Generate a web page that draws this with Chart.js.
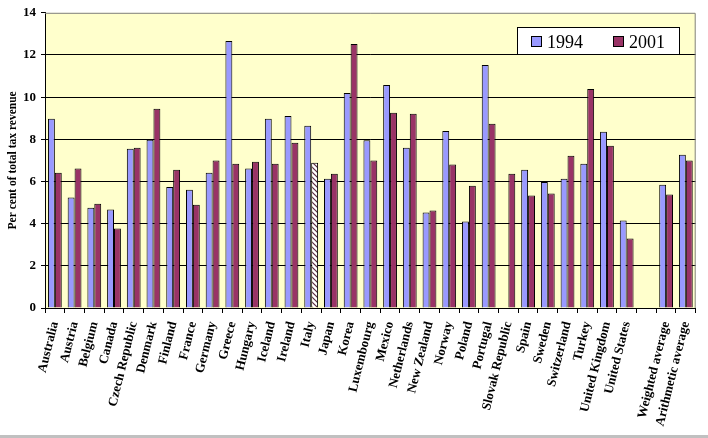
<!DOCTYPE html>
<html>
<head>
<meta charset="utf-8">
<script src="https://cdn.jsdelivr.net/npm/chart.js@4/dist/chart.umd.min.js"></script>
<style>
  html, body { margin: 0; padding: 0; background: #fff; }
  #wrap { width: 708px; height: 435px; border-bottom: 3px solid #c0c0c0; }
</style>
</head>
<body>
<div id="wrap"><canvas id="chart" width="708" height="435"></canvas></div>
<script>
// Категории (пустая категория перед средними значениями)
const countries = [
  "Australia", "Austria", "Belgium", "Canada", "Czech Republic", "Denmark",
  "Finland", "France", "Germany", "Greece", "Hungary", "Iceland", "Ireland",
  "Italy", "Japan", "Korea", "Luxembourg", "Mexico", "Netherlands",
  "New Zealand", "Norway", "Poland", "Portugal", "Slovak Republic", "Spain",
  "Sweden", "Switzerland", "Turkey", "United Kingdom", "United States", "",
  "Weighted average", "Arithmetic average"
];

const values1994 = [
  8.97, 5.24, 4.76, 4.67, 7.55, 7.98, 5.74, 5.61, 6.42, 12.66,
  6.61, 8.97, 9.11, 8.64, 6.13, 10.20, 7.96, 10.58, 7.60, 4.53,
  8.40, 4.10, 11.53, null, 6.56, 5.98, 6.13, 6.84, 8.36, 4.15,
  null, 5.85, 7.27
];

const values2001 = [
  6.42, 6.61, 4.95, 3.77, 7.60, 9.45, 6.56, 4.90, 6.99, 6.84,
  6.94, 6.84, 7.84, 6.89, 6.37, 12.52, 6.99, 9.26, 9.21, 4.62,
  6.80, 5.80, 8.74, 6.37, 5.33, 5.43, 7.22, 10.39, 7.70, 3.30,
  null, 5.38, 6.99
];

const yTicks = [0, 2, 4, 6, 8, 10, 12, 14];
const seriesNames = ["1994", "2001"];

const serif = '"Liberation Serif", "Times New Roman", serif';

// Штриховка для Италии (2001)
function makeHatch() {
  const pc = document.createElement("canvas");
  pc.width = 5;
  pc.height = 5;
  const c = pc.getContext("2d");
  c.fillStyle = "#ffffff";
  c.fillRect(0, 0, 5, 5);
  c.strokeStyle = "#5a2a40";
  c.lineWidth = 1.2;
  c.beginPath();
  c.moveTo(-1, -1); c.lineTo(6, 6);
  c.moveTo(-1, 4); c.lineTo(1, 6);
  c.moveTo(4, -1); c.lineTo(6, 1);
  c.stroke();
  return c.createPattern(pc, "repeat");
}

const ctx = document.getElementById("chart").getContext("2d");
const hatch = makeHatch();
const colors1994 = "#9999ff";
const colors2001 = countries.map((c) => (c === "Italy" ? hatch : "#993366"));

// Фон области графика, рамка и легенда
const framePlugin = {
  id: "frame",
  beforeDraw(chart) {
    const a = chart.chartArea;
    const g = chart.ctx;
    g.save();
    g.fillStyle = "#ffffcc";
    g.fillRect(a.left, a.top, a.right - a.left, a.bottom - a.top);
    g.restore();
  },
  afterDraw(chart) {
    const a = chart.chartArea;
    const g = chart.ctx;
    g.save();
    g.strokeStyle = "#808080";
    g.lineWidth = 1;
    g.beginPath();
    g.moveTo(a.left, a.top + 0.5);
    g.lineTo(a.right - 0.5, a.top + 0.5);
    g.lineTo(a.right - 0.5, a.bottom);
    g.stroke();

    // легенда
    g.fillStyle = "#ffffff";
    g.fillRect(517, 27, 162, 27);
    g.strokeStyle = "#000000";
    g.strokeRect(517.5, 27.5, 162, 27);
    const items = [
      { x: 531, color: colors1994, text: seriesNames[0] },
      { x: 613, color: "#993366", text: seriesNames[1] },
    ];
    g.font = "18px " + serif;
    g.textBaseline = "alphabetic";
    items.forEach((it) => {
      g.fillStyle = it.color;
      g.fillRect(it.x, 36, 10, 10);
      g.strokeStyle = "#000";
      g.strokeRect(it.x + 0.5, 36.5, 10, 10);
      g.fillStyle = "#000";
      g.fillText(it.text, it.x + 16, 48);
    });
    g.restore();
  },
};

new Chart(ctx, {
  type: "bar",
  data: {
    labels: countries,
    datasets: [
      {
        label: seriesNames[0],
        data: values1994,
        backgroundColor: colors1994,
        borderColor: "#000000",
        borderWidth: 1,
        categoryPercentage: 0.7,
        barPercentage: 1.0,
      },
      {
        label: seriesNames[1],
        data: values2001,
        backgroundColor: colors2001,
        borderColor: "#000000",
        borderWidth: 1,
        categoryPercentage: 0.7,
        barPercentage: 1.0,
      },
    ],
  },
  options: {
    responsive: false,
    animation: false,
    devicePixelRatio: 1,
    layout: { padding: { top: 12, right: 2, left: 0, bottom: 0 } },
    plugins: {
      legend: { display: false },
      tooltip: { enabled: false },
    },
    scales: {
      x: {
        offset: true,
        grid: {
          offset: true,
          drawOnChartArea: false,
          drawTicks: true,
          tickLength: 5,
          color: "#000000",
        },
        border: { color: "#000000" },
        ticks: {
          autoSkip: false,
          minRotation: 76,
          maxRotation: 76,
          padding: 7,
          color: "#000000",
          font: { family: serif, size: 13, weight: "bold" },
        },
        afterFit(scale) {
          scale.height = 127;
        },
      },
      y: {
        min: 0,
        max: 14,
        afterBuildTicks(scale) {
          scale.ticks = yTicks.map((v) => ({ value: v }));
        },
        grid: {
          color: (c) => (c.tick && c.tick.value === 14 ? "rgba(0,0,0,0)" : "#000000"),
          tickColor: "#000000",
          tickLength: 4,
        },
        border: { color: "#000000" },
        ticks: {
          padding: 5,
          color: "#000000",
          font: { family: serif, size: 13, weight: "bold" },
        },
        title: {
          display: true,
          text: "Per cent of total tax revenue",
          color: "#000000",
          font: { family: serif, size: 11.5, weight: "bold" },
          padding: { top: 6, bottom: 0 },
        },
        afterFit(scale) {
          scale.width = 45;
        },
      },
    },
  },
  plugins: [framePlugin],
});
</script>
</body>
</html>
